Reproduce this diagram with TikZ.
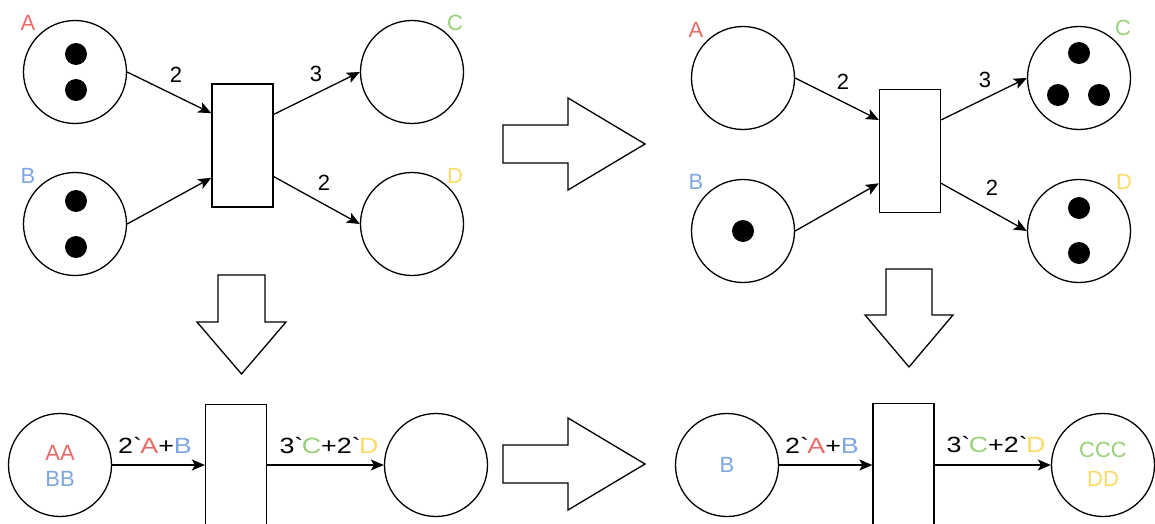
\documentclass[tikz,border=0pt]{standalone}
\usepackage{fontspec}
\setmainfont{Liberation Sans}
\newfontfamily\widefont[FakeStretch=1.22]{Liberation Sans}
\usetikzlibrary{arrows.meta,calc}
\definecolor{cA}{HTML}{EA6B66}
\definecolor{cB}{HTML}{7EA6E0}
\definecolor{cC}{HTML}{97D077}
\definecolor{cD}{HTML}{FFD966}
\begin{document}
\begin{tikzpicture}[x=1pt,y=-1pt,
  place/.style={circle,draw,line width=1.3pt,minimum size=103pt,inner sep=0pt},
  trans/.style={rectangle,draw,line width=1.3pt,minimum width=61pt,minimum height=123pt,inner sep=0pt},
  token/.style={circle,fill=black,minimum size=22pt,inner sep=0pt},
  lbl/.style={inner sep=0pt,font=\fontsize{22}{26}\selectfont},
  elbl/.style={inner sep=0pt,anchor=base,font=\widefont\fontsize{22}{26}\selectfont},
  arc/.style={line width=1.3pt,-{Stealth[length=13pt,width=11pt,inset=3pt]}},
  bigarrow/.style={draw,line width=1.3pt,fill=white,line join=miter}]
\useasboundingbox (0,0) rectangle (1155,524);
\clip (0,0) rectangle (1155,524);

% ---------- top-left net ----------
\node[place] (A1) at (75,72) {};
\node[place] (B1) at (75,224) {};
\node[place] (C1) at (412,72) {};
\node[place] (D1) at (412,224) {};
\node[trans] (T1) at (242.5,145.5) {};
\node[token] (a1t1) at (76,54) {};
\node[token] (a1t2) at (76,90) {};
\node[token] (b1t1) at (76,201) {};
\node[token] (b1t2) at (76,247) {};
\node[lbl,text=cA] (lA1) at (28,23) {A};
\node[lbl,text=cB] (lB1) at (28,176) {B};
\node[lbl,text=cC] (lC1) at (455,23) {C};
\node[lbl,text=cD] (lD1) at (455,176) {D};
\coordinate (T1i1) at ($(T1.north west)!0.24!(T1.south west)$);
\coordinate (T1i2) at ($(T1.north west)!0.76!(T1.south west)$);
\coordinate (T1o1) at ($(T1.north east)!0.25!(T1.south east)$);
\coordinate (T1o2) at ($(T1.north east)!0.75!(T1.south east)$);
\draw[arc] (A1.east) -- (T1i1);
\draw[arc] (B1.east) -- (T1i2);
\draw[arc] (T1o1) -- (C1.west);
\draw[arc] (T1o2) -- (D1.west);
\node[lbl] (w1) at (176,75) {2};
\node[lbl] (w2) at (316,74) {3};
\node[lbl] (w3) at (324,183) {2};

% ---------- top-right net ----------
\node[place] (A2) at (743,78) {};
\node[place] (B2) at (743,231) {};
\node[place] (C2) at (1079,78) {};
\node[place] (D2) at (1079,231) {};
\node[trans] (T2) at (910,151) {};
\node[token] (b2t1) at (743,231) {};
\node[token] (c2t1) at (1079,53) {};
\node[token] (c2t2) at (1058,95) {};
\node[token] (c2t3) at (1099,95) {};
\node[token] (d2t1) at (1079,208) {};
\node[token] (d2t2) at (1079,253) {};
\node[lbl,text=cA] (lA2) at (696,30) {A};
\node[lbl,text=cB] (lB2) at (696,182) {B};
\node[lbl,text=cC] (lC2) at (1123,28) {C};
\node[lbl,text=cD] (lD2) at (1124,182) {D};
\coordinate (T2i1) at ($(T2.north west)!0.25!(T2.south west)$);
\coordinate (T2i2) at ($(T2.north west)!0.76!(T2.south west)$);
\coordinate (T2o1) at ($(T2.north east)!0.25!(T2.south east)$);
\coordinate (T2o2) at ($(T2.north east)!0.76!(T2.south east)$);
\draw[arc] (A2.east) -- (T2i1);
\draw[arc] (B2.east) -- (T2i2);
\draw[arc] (T2o1) -- (C2.west);
\draw[arc] (T2o2) -- (D2.west);
\node[lbl] (w4) at (843,82) {2};
\node[lbl] (w5) at (985,80) {3};
\node[lbl] (w6) at (992,188) {2};

% ---------- bottom-left net ----------
\node[place] (P3) at (60,465) {};
\node[place] (Q3) at (436,465) {};
\node[trans,anchor=north] (T3) at (236,404) {};
\node[lbl,text=cA] (aa3) at (60,453) {AA};
\node[lbl,text=cB] (bb3) at (60,479) {BB};
\draw[arc] (P3.east) -- (T3.west |- P3.east);
\draw[arc] (T3.east |- Q3.west) -- (Q3.west);
\node[elbl] (e1) at (155,453) {2\textasciigrave\textcolor{cA}{A}+\textcolor{cB}{B}};
\node[elbl] (e2) at (329,453) {3\textasciigrave\textcolor{cC}{C}+2\textasciigrave\textcolor{cD}{D}};

% ---------- bottom-right net ----------
\node[place] (P4) at (727,465) {};
\node[place] (Q4) at (1103,465) {};
\node[trans,anchor=north] (T4) at (903.5,403) {};
\node[lbl,text=cB] (b4) at (727,465) {B};
\node[lbl,text=cC] (cc4) at (1103,450) {CCC};
\node[lbl,text=cD] (dd4) at (1103,479) {DD};
\draw[arc] (P4.east) -- (T4.west |- P4.east);
\draw[arc] (T4.east |- Q4.west) -- (Q4.west);
\node[elbl] (e3) at (822,453) {2\textasciigrave\textcolor{cA}{A}+\textcolor{cB}{B}};
\node[elbl] (e4) at (996,452) {3\textasciigrave\textcolor{cC}{C}+2\textasciigrave\textcolor{cD}{D}};

% ---------- big hollow arrows ----------
\draw[bigarrow] (503,125) -- (568,125) -- (568,98) -- (645,144) -- (568,190) -- (568,163) -- (503,163) -- cycle;
\draw[bigarrow] (503,445) -- (568,445) -- (568,418) -- (645,464) -- (568,510) -- (568,483) -- (503,483) -- cycle;
\draw[bigarrow] (218,275) -- (265,275) -- (265,322) -- (286,322) -- (241.5,374) -- (197,322) -- (218,322) -- cycle;
\draw[bigarrow] (886,269) -- (932,269) -- (932,315) -- (953,315) -- (909,367) -- (865,315) -- (886,315) -- cycle;
\end{tikzpicture}
\end{document}
